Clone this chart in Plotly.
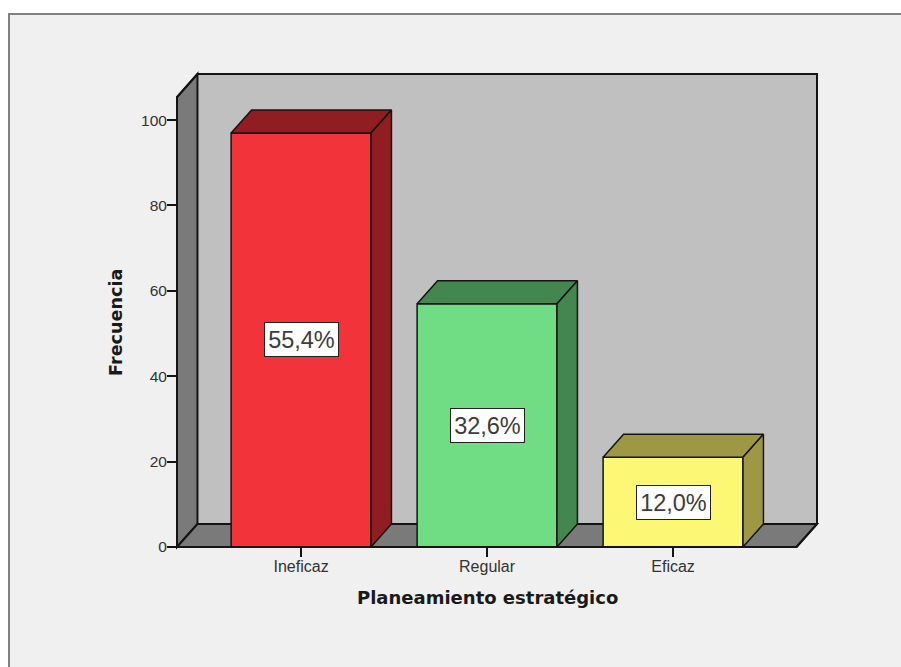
import plotly.graph_objects as go

# Survey counts per category and their share labels
categories = ["Ineficaz", "Regular", "Eficaz"]
frequencies = [97, 57, 21]
share_labels = ["55,4%", "32,6%", "12,0%"]
y_tick_values = [0, 20, 40, 60, 80, 100]
x_title = "Planeamiento estratégico"
y_title = "Frecuencia"

front_colors = ["#F2343A", "#70DD85", "#FDF873"]
shade_colors = ["#8F1D21", "#448650", "#9E9845"]
WALL = "#C0C0C0"
SIDE_WALL = "#7A7A7A"
PANEL = "#F0F0F0"
EDGE = "#141414"
FONT = "Liberation Sans"
TITLE_FONT = "DejaVu Sans"

WIDTH, HEIGHT = 901, 667
# Box limits in pixels, plus a small gutter so its outline is not clipped
BOX_L, BOX_R, BOX_T, BOX_B = 177, 817, 74, 547
GUTTER = 3
plot_w = BOX_R - BOX_L + 2 * GUTTER
plot_h = BOX_B - BOX_T + 2 * GUTTER

# Box extent and oblique depth, in data units
x_min, x_max = -0.667, 2.774
y_max = 110.8
depth_x = 0.110
depth_y = 5.39
half_bar = 0.376

x_pad = GUTTER * (x_max - x_min) / (BOX_R - BOX_L)
y_pad = GUTTER * y_max / (BOX_B - BOX_T)


def closed(points):
    xs = [p[0] for p in points] + [points[0][0]]
    ys = [p[1] for p in points] + [points[0][1]]
    return xs, ys


def svg_path(points):
    head = f"M{points[0][0]},{points[0][1]}"
    return head + "".join(f"L{x},{y}" for x, y in points[1:]) + "Z"


fig = go.Figure()

# Front faces of the bars
fig.add_trace(go.Bar(
    x=list(range(len(categories))),
    y=frequencies,
    width=2 * half_bar,
    marker=dict(color=front_colors, line=dict(color=EDGE, width=1.5)),
    hoverinfo="skip",
    showlegend=False,
))

# Top and side faces of each bar
for i, value in enumerate(frequencies):
    left, right = i - half_bar, i + half_bar
    top = [(left, value), (left + depth_x, value + depth_y),
           (right + depth_x, value + depth_y), (right, value)]
    side = [(right, 0), (right + depth_x, depth_y),
            (right + depth_x, value + depth_y), (right, value)]
    for face in (top, side):
        xs, ys = closed(face)
        fig.add_trace(go.Scatter(
            x=xs, y=ys, mode="lines", fill="toself",
            fillcolor=shade_colors[i],
            line=dict(color=EDGE, width=1.5),
            hoverinfo="skip", showlegend=False,
        ))

# Outline of the box
frame = [(x_min, 0), (x_min, y_max - depth_y), (x_min + depth_x, y_max),
         (x_max, y_max), (x_max, depth_y), (x_max - depth_x, 0)]
xs, ys = closed(frame)
fig.add_trace(go.Scatter(
    x=xs, y=ys, mode="lines",
    line=dict(color=EDGE, width=2),
    hoverinfo="skip", showlegend=False,
))

back_x = x_min + depth_x
shapes = [
    # Window panel behind the chart; its right and bottom edges run off the page
    dict(type="rect", xref="paper", yref="paper", layer="below",
         x0=(9 - (BOX_L - GUTTER)) / plot_w,
         x1=(WIDTH + 10 - (BOX_L - GUTTER)) / plot_w,
         y0=((BOX_B + GUTTER) - (HEIGHT + 10)) / plot_h,
         y1=((BOX_B + GUTTER) - 14) / plot_h,
         fillcolor=PANEL, line=dict(color="#808080", width=2)),
    # Back wall, left wall and floor
    dict(type="rect", xref="x", yref="y", layer="below",
         x0=back_x, x1=x_max, y0=depth_y, y1=y_max,
         fillcolor=WALL, line=dict(width=0)),
    dict(type="path", xref="x", yref="y", layer="below",
         path=svg_path([(x_min, 0), (back_x, depth_y), (back_x, y_max),
                        (x_min, y_max - depth_y)]),
         fillcolor=SIDE_WALL, line=dict(color=EDGE, width=2)),
    dict(type="path", xref="x", yref="y", layer="below",
         path=svg_path([(x_min, 0), (back_x, depth_y), (x_max, depth_y),
                        (x_max - depth_x, 0)]),
         fillcolor=SIDE_WALL, line=dict(color=EDGE, width=2)),
]

annotations = [
    dict(x=i, y=value / 2, xref="x", yref="y", text=label, showarrow=False,
         font=dict(family=FONT, size=23.5, color="#3C3C3C"),
         bgcolor="#FFFFFF", bordercolor="#222222", borderwidth=1,
         width=71, height=31, align="center", valign="middle")
    for i, (value, label) in enumerate(zip(frequencies, share_labels))
]
annotations.append(dict(
    x=1, y=0, xref="x", yref="y", yshift=-50, text=f"<b>{x_title}</b>",
    showarrow=False, font=dict(family=TITLE_FONT, size=18, color="#1A1A1A"),
))
annotations.append(dict(
    x=x_min, y=52.5, xref="x", yref="y", xshift=-61, text=f"<b>{y_title}</b>",
    textangle=-90, showarrow=False, font=dict(family=TITLE_FONT, size=17.6, color="#1A1A1A"),
))

fig.update_layout(
    width=WIDTH, height=HEIGHT,
    margin=dict(l=BOX_L - GUTTER, r=WIDTH - BOX_R - GUTTER,
                t=BOX_T - GUTTER, b=HEIGHT - BOX_B - GUTTER, pad=0),
    paper_bgcolor="#FFFFFF",
    plot_bgcolor="rgba(0,0,0,0)",
    shapes=shapes,
    annotations=annotations,
    showlegend=False,
    xaxis=dict(
        range=[x_min - x_pad, x_max + x_pad], tickmode="array",
        tickvals=list(range(len(categories))), ticktext=categories,
        anchor="free", position=GUTTER / plot_h,
        ticks="outside", ticklen=9, tickwidth=1.5, tickcolor=EDGE,
        ticklabelstandoff=-4,
        showgrid=False, zeroline=False, showline=False,
        tickfont=dict(family=FONT, size=16, color="#333333"),
    ),
    yaxis=dict(
        range=[-y_pad, y_max + y_pad], tickmode="array", tickvals=y_tick_values,
        anchor="free", position=GUTTER / plot_w,
        ticks="outside", ticklen=10, tickwidth=1.5, tickcolor=EDGE,
        ticklabelstandoff=-3,
        showgrid=False, zeroline=False, showline=False,
        tickfont=dict(family=FONT, size=15.5, color="#333333"),
    ),
)

fig.write_html("out.html", config={"displayModeBar": False})
